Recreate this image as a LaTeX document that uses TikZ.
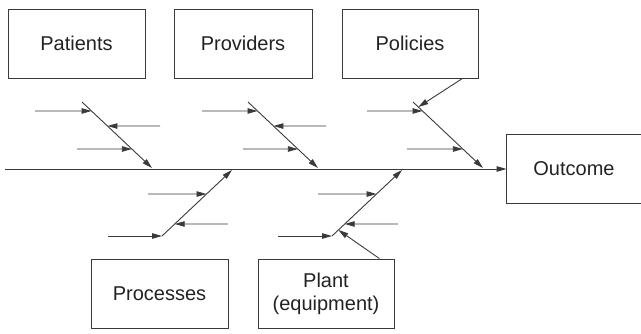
\documentclass[tikz,border=0pt]{standalone}
\usepackage{fontspec}
\setmainfont{Liberation Sans}
\usetikzlibrary{arrows.meta,calc}
\definecolor{ink}{HTML}{3A3A3A}
\definecolor{txt}{HTML}{222222}
\tikzset{
  cause/.style={draw=ink, line width=0.9pt, minimum width=137pt, minimum height=69pt,
    inner sep=0pt, text=txt, font=\fontsize{20}{23}\selectfont, align=center},
  arr/.style={draw=ink, line width=0.9pt, -{Triangle[length=10pt,width=5.5pt]}},
  bone/.style={draw=ink, line width=0.9pt},
}
\begin{document}
\begin{tikzpicture}[x=1pt,y=-1pt]
\useasboundingbox (0,0) rectangle (641,333);
% boxes
\node[cause] (pat) at (76.5,43.5) {Patients};
\node[cause, minimum width=138pt] (pro) at (243,43.5) {Providers};
\node[cause, minimum width=136pt] (pol) at (410,43.5) {Policies};
\node[cause] (prc) at (159.5,293.5) {Processes};
\node[cause, minimum width=136pt] (pla) at (326,293.5) {Plant\\(equipment)};
\node[cause, draw=none, minimum width=134pt, minimum height=68pt] (out) at (574,168.5) {Outcome};
\draw[bone] (out.north east) -- (out.north west) -- (out.south west) -- (out.south east);
% spine
\coordinate (tail) at (5,169);
\draw[arr] (tail) -- (tail -| out.west);
% upper bones
\foreach \n/\dx in {a/0, b/166, c/331}{
  \coordinate (top\n) at (82+\dx,102);
  \coordinate (tip\n) at (152+\dx,168);
  \coordinate (\n1) at ($(top\n)!0.136!(tip\n)$);
  \coordinate (\n2) at ($(top\n)!0.364!(tip\n)$);
  \coordinate (\n3) at ($(top\n)!0.712!(tip\n)$);
  \draw[arr] (top\n) -- (tip\n);
}
\coordinate (sa1) at (35,111);
\coordinate (sa2) at (160,126);
\coordinate (sa3) at (77,149);
\coordinate (sb1) at (202,111);
\coordinate (sb2) at (326,126);
\coordinate (sb3) at (243,149);
\coordinate (sc1) at (367,111);
\coordinate (sc3) at (407,149);
\draw[arr] (sa1) -- (a1);
\draw[arr] (sa2) -- (a2);
\draw[arr] (sa3) -- (a3);
\draw[arr] (sb1) -- (b1);
\draw[arr] (sb2) -- (b2);
\draw[arr] (sb3) -- (b3);
\draw[arr] (sc1) -- (c1);
\draw[arr] (sc3) -- (c3);
\coordinate (c0) at ($(topc)!0.076!(tipc)$);
\draw[arr] ([xshift=-16pt]pol.south east) -- (c0);
% lower bones
\foreach \n/\dx in {d/0, e/170}{
  \coordinate (bot\n) at (162+\dx,236);
  \coordinate (up\n) at (232+\dx,170);
  \coordinate (\n1) at ($(bot\n)!0.636!(up\n)$);
  \coordinate (\n2) at ($(bot\n)!0.182!(up\n)$);
  \draw[arr] (bot\n) -- (up\n);
}
\coordinate (sd1) at (148,194);
\coordinate (sd2) at (228,224);
\coordinate (sd3) at (108,236);
\coordinate (se1) at (318,194);
\coordinate (se2) at (398,224);
\coordinate (se3) at (278,236);
\draw[arr] (sd1) -- (d1);
\draw[arr] (sd2) -- (d2);
\draw[arr] (sd3) -- (botd);
\draw[arr] (se1) -- (e1);
\draw[arr] (se2) -- (e2);
\draw[arr] (se3) -- (bote);
\coordinate (e0) at ($(bote)!0.091!(upe)$);
\draw[arr] ([xshift=-15pt]pla.north east) -- (e0);
\end{tikzpicture}
\end{document}
